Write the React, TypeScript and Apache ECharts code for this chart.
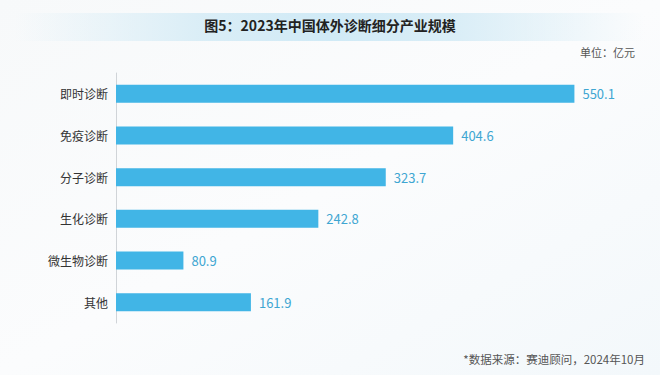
import React, { useEffect, useRef } from "react";
import * as echarts from "echarts";

const categories = ["即时诊断", "免疫诊断", "分子诊断", "生化诊断", "微生物诊断", "其他"];
const values = [550.1, 404.6, 323.7, 242.8, 80.9, 161.9];
const titleText = "图5：2023年中国体外诊断细分产业规模";
const unitText = "单位：亿元";
const sourceText = "*数据来源：赛迪顾问，2024年10月";

const FONT = "'Noto Sans CJK SC', 'Noto Sans', sans-serif";

export default function App() {
  const ref = useRef<HTMLDivElement>(null);
  useEffect(() => {
    if (!ref.current) return;
    const chart = echarts.init(ref.current, null, { renderer: "svg" });
    chart.setOption({
      animation: false,
      backgroundColor: new echarts.graphic.LinearGradient(0, 0, 1, 1, [
        { offset: 0, color: "#f7f9fa" },
        { offset: 0.5, color: "#fbfcfd" },
        { offset: 1, color: "#f3f8fb" },
      ]),
      textStyle: { fontFamily: FONT },
      graphic: [
        {
          type: "rect",
          left: 15,
          top: 13,
          shape: { width: 630, height: 28 },
          style: {
            fill: new echarts.graphic.LinearGradient(0, 0, 1, 0, [
              { offset: 0, color: "rgba(214,236,246,0)" },
              { offset: 0.3, color: "rgba(214,236,246,0.9)" },
              { offset: 0.5, color: "rgba(208,234,246,1)" },
              { offset: 0.7, color: "rgba(214,236,246,0.9)" },
              { offset: 1, color: "rgba(214,236,246,0)" },
            ]),
          },
          z: 0,
        },
        {
          type: "text",
          left: "center",
          top: 18,
          style: {
            text: titleText,
            font: `bold 14px ${FONT}`,
            fill: "#222222",
          },
        },
        {
          type: "text",
          right: 25,
          top: 46,
          style: { text: unitText, font: `11px ${FONT}`, fill: "#555555" },
        },
        {
          type: "text",
          right: 15,
          top: 353,
          style: { text: sourceText, font: `11.5px ${FONT}`, fill: "#555555" },
        },
      ],
      grid: { left: 116, right: 44, top: 73, bottom: 52, containLabel: false },
      xAxis: {
        type: "value",
        min: 0,
        max: 600,
        show: false,
      },
      yAxis: {
        type: "category",
        data: categories,
        inverse: true,
        axisLine: { show: true, lineStyle: { color: "#d0d4d8", width: 1 } },
        axisTick: { show: false },
        axisLabel: { color: "#333333", fontSize: 12, margin: 8, fontFamily: FONT },
      },
      series: [
        {
          type: "bar",
          data: values,
          barWidth: 18,
          itemStyle: { color: "#41b5e6" },
          label: {
            show: true,
            position: "right",
            distance: 8,
            color: "#3ea6d2",
            fontSize: 13,
            fontFamily: FONT,
            formatter: (p: any) => Number(p.value).toFixed(1),
          },
        },
      ],
    });
    return () => chart.dispose();
  }, []);
  return (
    <div
      ref={ref}
      style={{ position: "fixed", left: 0, top: 0, width: 660, height: 375 }}
    />
  );
}
